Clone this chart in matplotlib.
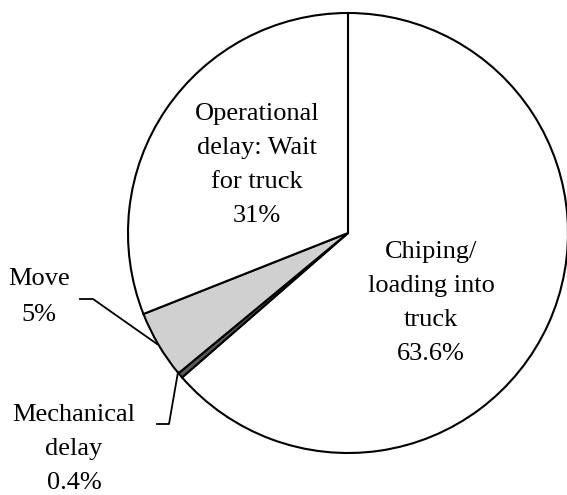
import numpy as np
import matplotlib.pyplot as plt

plt.rcParams['font.family'] = ['Liberation Serif', 'DejaVu Serif']

# slices, clockwise from 12 o'clock
labels = ['Chiping/\nloading into\ntruck', 'Mechanical\ndelay', 'Move', 'Operational\ndelay: Wait\nfor truck']
pct = [63.6, 0.4, 5.0, 31.0]
pct_txt = ['63.6%', '0.4%', '5%', '31%']
colors = ['white', '#595959', '#d0d0d0', 'white']

W, H = 567, 495
cx, cy, R = 348, 233, 220

fig = plt.figure(figsize=(W / 100, H / 100), dpi=100)
ax = fig.add_axes([(cx - R) / W, (H - cy - R) / H, 2 * R / W, 2 * R / H])
ax.pie(pct, colors=colors, startangle=90, counterclock=False, radius=1,
       wedgeprops=dict(edgecolor='black', linewidth=1.5))
ax.set_xlim(-1, 1)
ax.set_ylim(-1, 1)
ax.set_aspect('equal')
ax.axis('off')


def d(px, py):
    # pixel position -> data coords
    return (px - cx) / R, (cy - py) / R


def lab(i, px, py, ls=1.72):
    x, y = d(px, py)
    ax.text(x, y, labels[i] + '\n' + pct_txt[i], ha='center', va='center',
            fontsize=19, linespacing=ls, clip_on=False)


lab(3, 257, 165)
lab(0, 431, 303)
lab(2, 39, 297, ls=1.78)
lab(1, 74, 449)

# leader lines
for pts in ([(80, 299), (93, 299), (157, 344)],
            [(157, 424), (169, 424), (178, 372)]):
    xs, ys = zip(*[d(*p) for p in pts])
    ax.plot(xs, ys, color='black', lw=1.3, clip_on=False)

fig.savefig('out.png', dpi=100)
